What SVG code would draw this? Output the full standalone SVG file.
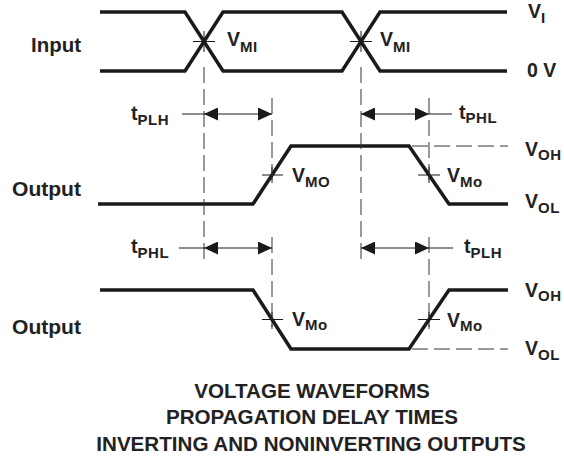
<svg xmlns="http://www.w3.org/2000/svg" width="564" height="458" viewBox="0 0 564 458">
<defs>
<style>
.wave{fill:none;stroke:#1a1a1a;stroke-width:3.5;stroke-linejoin:miter;stroke-linecap:butt}
.dash{fill:none;stroke:#333;stroke-width:1;stroke-dasharray:16 6}
.thin{fill:none;stroke:#1a1a1a;stroke-width:1}
.dim{fill:none;stroke:#1a1a1a;stroke-width:1;marker-start:url(#ah);marker-end:url(#ah)}
text{font-family:"Liberation Sans",Arial,Helvetica,sans-serif;font-weight:bold;fill:#222}
.lbl{font-size:20px}
.v{font-size:19.5px}
.sub{font-size:15px;letter-spacing:0.6px}
.title{font-size:20.6px;text-anchor:middle}
</style>
<marker id="ah" viewBox="0 0 14 13" refX="14" refY="6.5" markerWidth="14" markerHeight="13" markerUnits="userSpaceOnUse" orient="auto-start-reverse">
<path d="M0,0 L14,6.5 L0,13 z" fill="#1a1a1a"/>
</marker>
</defs>
<rect width="564" height="458" fill="#fff"/>

<g id="input">
<path class="wave" d="M100,12 H185 L223,71 H342 L380,12 H507"/>
<path class="wave" d="M100,71 H185 L223,12 H342 L380,71 H507"/>
<path class="thin" d="M193,41.5 H215 M204,31 V52 M350,41.5 H372 M361,31 V52"/>
<text class="lbl" x="31" y="52" textLength="50" lengthAdjust="spacingAndGlyphs">Input</text>
<text class="v" x="528" y="18">V<tspan class="sub" dy="5">I</tspan></text>
<text class="v" x="527" y="77">0 V</text>
<text class="v" x="227" y="46">V<tspan class="sub" dy="6">MI</tspan></text>
<text class="v" x="380" y="46">V<tspan class="sub" dy="6">MI</tspan></text>
</g>

<g id="output-noninverting">
<path class="wave" d="M98,204 H253 L291,146 H409 L449,204 H508"/>
<path class="thin" d="M262,175 H283 M272,167 V183 M418,175 H440 M429,167 V183"/>
<text class="lbl" x="12" y="196" textLength="69" lengthAdjust="spacingAndGlyphs">Output</text>
<text class="v" x="292" y="182">V<tspan class="sub" dy="5">MO</tspan></text>
<text class="v" x="447" y="182">V<tspan class="sub" dy="5">Mo</tspan></text>
<text class="v" x="525" y="156">V<tspan class="sub" dy="4">OH</tspan></text>
<text class="v" x="525" y="208">V<tspan class="sub" dy="5">OL</tspan></text>
</g>

<g id="output-inverting">
<path class="wave" d="M100,290 H253 L291,349 H409 L449,290 H508"/>
<path class="thin" d="M262,319.5 H283 M272,312 V327 M418,319.5 H440 M429,312 V327"/>
<text class="lbl" x="12" y="334" textLength="69" lengthAdjust="spacingAndGlyphs">Output</text>
<text class="v" x="292" y="326">V<tspan class="sub" dy="4">Mo</tspan></text>
<text class="v" x="447" y="327">V<tspan class="sub" dy="4">Mo</tspan></text>
<text class="v" x="525" y="297">V<tspan class="sub" dy="4">OH</tspan></text>
<text class="v" x="525" y="355">V<tspan class="sub" dy="5">OL</tspan></text>
</g>

<g id="connectors">
<path class="dash" d="M204,67 V262"/>
<path class="dash" d="M361,67 V262"/>
<path class="dash" d="M272,98 V186"/>
<path class="dash" d="M429,98 V186"/>
<path class="dash" d="M272,237 V329"/>
<path class="dash" d="M429,237 V329"/>
<path class="dash" d="M412,146 H508"/>
<path class="dash" d="M412,349 H508"/>
<path class="thin" d="M182,114 H204 M429,114 H452 M179,248 H204 M429,248 H453"/>
<path class="dim" d="M204,114 H272"/>
<path class="dim" d="M361,114 H429"/>
<path class="dim" d="M204,248 H272"/>
<path class="dim" d="M361,248 H429"/>
<text class="v" x="131" y="120">t<tspan class="sub" dy="5">PLH</tspan></text>
<text class="v" x="459" y="119">t<tspan class="sub" dy="4">PHL</tspan></text>
<text class="v" x="131" y="253">t<tspan class="sub" dy="5">PHL</tspan></text>
<text class="v" x="464" y="253">t<tspan class="sub" dy="5">PLH</tspan></text>
</g>

<g id="caption">
<text class="title" x="312" y="398">VOLTAGE WAVEFORMS</text>
<text class="title" x="312" y="424">PROPAGATION DELAY TIMES</text>
<text class="title" x="311" y="451">INVERTING AND NONINVERTING OUTPUTS</text>
</g>
</svg>
